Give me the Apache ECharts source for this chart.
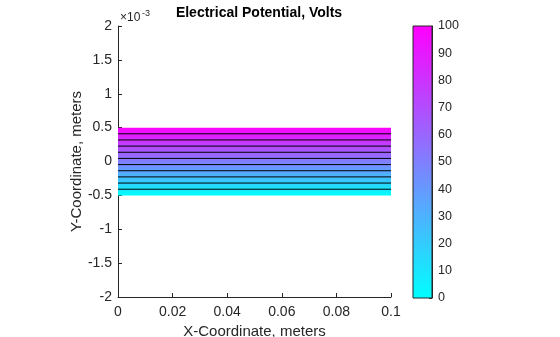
<!DOCTYPE html>
<html>
<head>
<meta charset="utf-8">
<script src="https://cdn.jsdelivr.net/npm/echarts@6/dist/echarts.min.js"></script>
<style>
html,body{margin:0;padding:0;background:#fff;}
#chart{width:560px;height:337px;}
</style>
</head>
<body>
<div id="chart"></div>
<script>
// ---- data ----
var xDomain = [0, 0.1];                 // rectangle extent in x (m)
var yDomain = [-0.0005, 0.0005];        // rectangle extent in y (m)
var potentialRange = [0, 100];          // potential at bottom / top edge (V)
var contourLevels = [9.09, 18.18, 27.27, 36.36, 45.45, 54.55, 63.64, 72.73, 81.82, 90.91];
var xTicks = [0, 0.02, 0.04, 0.06, 0.08, 0.1];
var yTickLabels = ['-2', '-1.5', '-1', '-0.5', '0', '0.5', '1', '1.5', '2'];
var colorbarTicks = [0, 10, 20, 30, 40, 50, 60, 70, 80, 90, 100];
var coolMap = ['#00ffff', '#ff00ff'];   // MATLAB "cool" colormap endpoints

var FONT = 'Liberation Sans, Arial, Helvetica, sans-serif';
var TXT = '#262626';

function levelToY(v) {
  return yDomain[0] + (v - potentialRange[0]) / (potentialRange[1] - potentialRange[0]) * (yDomain[1] - yDomain[0]);
}

var contourSeries = contourLevels.map(function (lv) {
  return {
    type: 'line', xAxisIndex: 0, yAxisIndex: 0, symbol: 'none', silent: true,
    lineStyle: { color: '#000', width: 1 },
    data: [[xDomain[0], levelToY(lv)], [xDomain[1], levelToY(lv)]],
    z: 5
  };
});

function gradientRect(params, api) {
  var p0 = api.coord([api.value(0), api.value(1)]);
  var p1 = api.coord([api.value(2), api.value(3)]);
  return {
    type: 'rect',
    shape: { x: p0[0], y: p1[1], width: p1[0] - p0[0], height: p0[1] - p1[1] },
    style: {
      fill: new echarts.graphic.LinearGradient(0, 1, 0, 0, [
        { offset: 0, color: coolMap[0] },
        { offset: 1, color: coolMap[1] }
      ])
    }
  };
}

var chart = echarts.init(document.getElementById('chart'), null, { renderer: 'canvas' });
chart.setOption({
  animation: false,
  title: {
    text: 'Electrical Potential, Volts',
    left: 254, top: 1, textAlign: 'center',
    textStyle: { fontFamily: FONT, fontSize: 14, fontWeight: 'bold', color: '#000' }
  },
  grid: [
    { left: 118, right: 169, top: 26, bottom: 40, containLabel: false, outerBoundsMode: 'none' },
    { left: 413, width: 19, top: 26, bottom: 39, containLabel: false, outerBoundsMode: 'none' }
  ],
  xAxis: [
    {
      type: 'value', gridIndex: 0, min: xDomain[0], max: xDomain[1], interval: 0.02,
      axisLine: { onZero: false, lineStyle: { color: TXT, width: 1 } },
      axisTick: { inside: true, length: 4, lineStyle: { color: TXT } },
      splitLine: { show: false },
      axisLabel: {
        fontFamily: FONT, fontSize: 14, color: TXT, margin: 8,
        formatter: function (v) { var i = Math.round(v / 0.02); return String(xTicks[i]); }
      },
      name: 'X-Coordinate, meters', nameLocation: 'middle', nameGap: 17,
      nameTextStyle: { fontFamily: FONT, fontSize: 15, color: TXT }
    },
    {
      type: 'value', gridIndex: 1, min: 0, max: 1, show: false,
      axisLine: { onZero: false }
    }
  ],
  yAxis: [
    {
      type: 'value', gridIndex: 0, min: -0.002, max: 0.002, interval: 0.0005,
      axisLine: { show: true, onZero: false, lineStyle: { color: TXT, width: 1 } },
      axisTick: { show: true, inside: true, length: 4, lineStyle: { color: TXT } },
      splitLine: { show: false },
      axisLabel: {
        fontFamily: FONT, fontSize: 14, color: TXT, margin: 6,
        formatter: function (v) { var i = Math.round((v + 0.002) / 0.0005); return yTickLabels[i]; }
      },
      name: 'Y-Coordinate, meters', nameLocation: 'middle', nameGap: 29,
      nameTextStyle: { fontFamily: FONT, fontSize: 15, color: TXT }
    },
    {
      type: 'value', gridIndex: 1, position: 'right', min: 0, max: 100, interval: 10,
      axisLine: { show: true, onZero: false, lineStyle: { color: TXT, width: 1 } },
      axisTick: { show: true, inside: true, length: 3, lineStyle: { color: TXT } },
      splitLine: { show: false },
      axisLabel: {
        fontFamily: FONT, fontSize: 12.5, color: TXT, margin: 6,
        formatter: function (v) { return String(colorbarTicks[Math.round(v / 10)]); }
      }
    }
  ],
  series: [
    {
      type: 'custom', xAxisIndex: 0, yAxisIndex: 0, silent: true, z: 2,
      renderItem: gradientRect,
      data: [[xDomain[0], yDomain[0], xDomain[1], yDomain[1], potentialRange[0], potentialRange[1]]]
    },
    {
      type: 'custom', xAxisIndex: 1, yAxisIndex: 1, silent: true, z: 2,
      renderItem: gradientRect,
      data: [[0, potentialRange[0], 1, potentialRange[1]]]
    }
  ].concat(contourSeries),
  graphic: [
    { type: 'rect', shape: { x: 413, y: 26, width: 19, height: 272 }, style: { fill: 'none', stroke: TXT, lineWidth: 1 }, z: 100, silent: true },
    { type: 'text', x: 120, y: 12, style: { text: '\u00d710', font: '12px ' + FONT, fill: TXT }, silent: true },
    { type: 'text', x: 142, y: 9, style: { text: '-3', font: '9px ' + FONT, fill: TXT }, silent: true }
  ]
});
</script>
</body>
</html>
